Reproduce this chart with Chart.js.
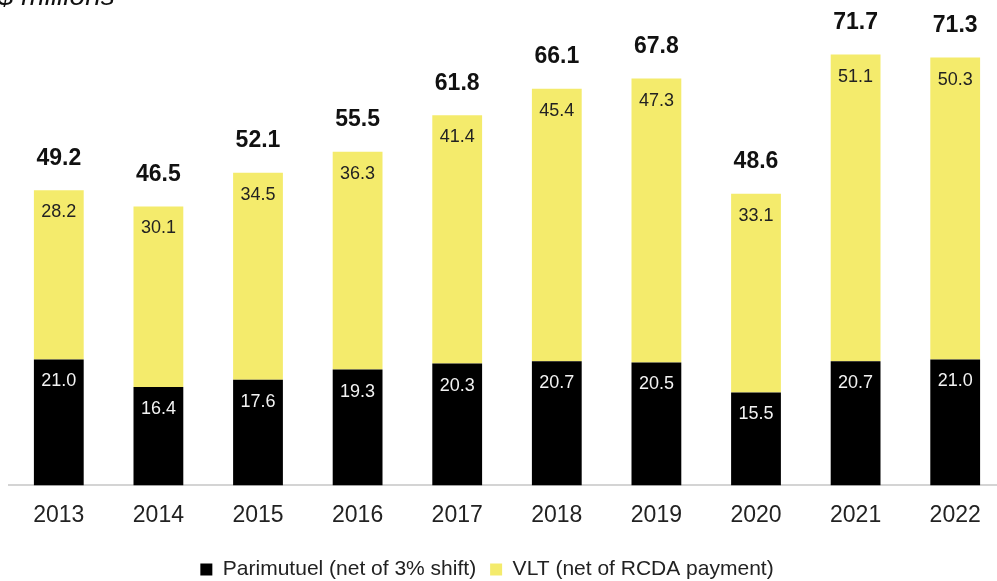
<!DOCTYPE html>
<html lang="en">
<head>
  <meta charset="UTF-8" />
  <title>$ millions</title>
  <style>
    body { margin: 0; background: #fff; overflow: hidden; }
    #wrap { width: 1006px; height: 590px; }
  </style>
</head>
<body>
  <div id="wrap"><canvas id="chart" width="1006" height="590"></canvas></div>

  <script src="https://cdn.jsdelivr.net/npm/chart.js"></script>
  <script>
    const years = ['2013', '2014', '2015', '2016', '2017', '2018', '2019', '2020', '2021', '2022'];
    const parimutuel = [21.0, 16.4, 17.6, 19.3, 20.3, 20.7, 20.5, 15.5, 20.7, 21.0];
    const vlt = [28.2, 30.1, 34.5, 36.3, 41.4, 45.4, 47.3, 33.1, 51.1, 50.3];
    const totals = [49.2, 46.5, 52.1, 55.5, 61.8, 66.1, 67.8, 48.6, 71.7, 71.3];

    const font = '"Liberation Sans", Arial, sans-serif';

    // value labels inside segments and totals above stacks
    const labelPlugin = {
      id: 'labels',
      afterLayout(chart) {
        // legend sits a little left of centre in the original
        chart.legend.left -= 20;
        chart.legend.right -= 20;
      },
      afterDatasetsDraw(chart) {
        const ctx = chart.ctx;
        ctx.save();
        ctx.textAlign = 'center';
        ctx.textBaseline = 'middle';
        const colors = ['#f2f2f2', '#222'];
        chart.data.datasets.forEach((ds, i) => {
          const meta = chart.getDatasetMeta(i);
          ctx.font = '18px ' + font;
          ctx.fillStyle = colors[i];
          meta.data.forEach((bar, j) => {
            ctx.fillText(ds.data[j].toFixed(1), bar.x, bar.y + 22);
          });
        });
        const top = chart.getDatasetMeta(1);
        ctx.font = 'bold 23px ' + font;
        ctx.fillStyle = '#111';
        top.data.forEach((bar, j) => {
          ctx.fillText(totals[j].toFixed(1), bar.x, bar.y - 32);
        });
        // unit note, cropped at the top-left corner
        ctx.textAlign = 'left';
        ctx.textBaseline = 'alphabetic';
        ctx.font = 'italic 28px ' + font;
        ctx.fillText('$ millions', -2, 5);
        ctx.restore();
      }
    };

    new Chart(document.getElementById('chart'), {
      type: 'bar',
      data: {
        labels: years,
        datasets: [
          { label: 'Parimutuel (net of 3% shift)', data: parimutuel, backgroundColor: '#000000' },
          { label: 'VLT (net of RCDA payment)', data: vlt, backgroundColor: '#F4EB6C' }
        ]
      },
      options: {
        responsive: false,
        devicePixelRatio: 1,
        animation: false,
        categoryPercentage: 1,
        barPercentage: 0.5,
        layout: { padding: { left: 9, right: 1, top: 3, bottom: 0 } },
        scales: {
          x: {
            stacked: true,
            grid: { display: false, drawTicks: false },
            border: { display: true, color: '#d4d4d4', width: 2 },
            ticks: { color: '#222', font: { family: font, size: 23 }, padding: 16 }
          },
          y: {
            stacked: true,
            display: false,
            min: 0,
            max: 80.4
          }
        },
        plugins: {
          legend: {
            position: 'bottom',
            labels: {
              color: '#222',
              font: { family: font, size: 21 },
              boxWidth: 12,
              boxHeight: 12,
              padding: 14
            }
          },
          tooltip: { enabled: false }
        }
      },
      plugins: [labelPlugin]
    });
  </script>
</body>
</html>
